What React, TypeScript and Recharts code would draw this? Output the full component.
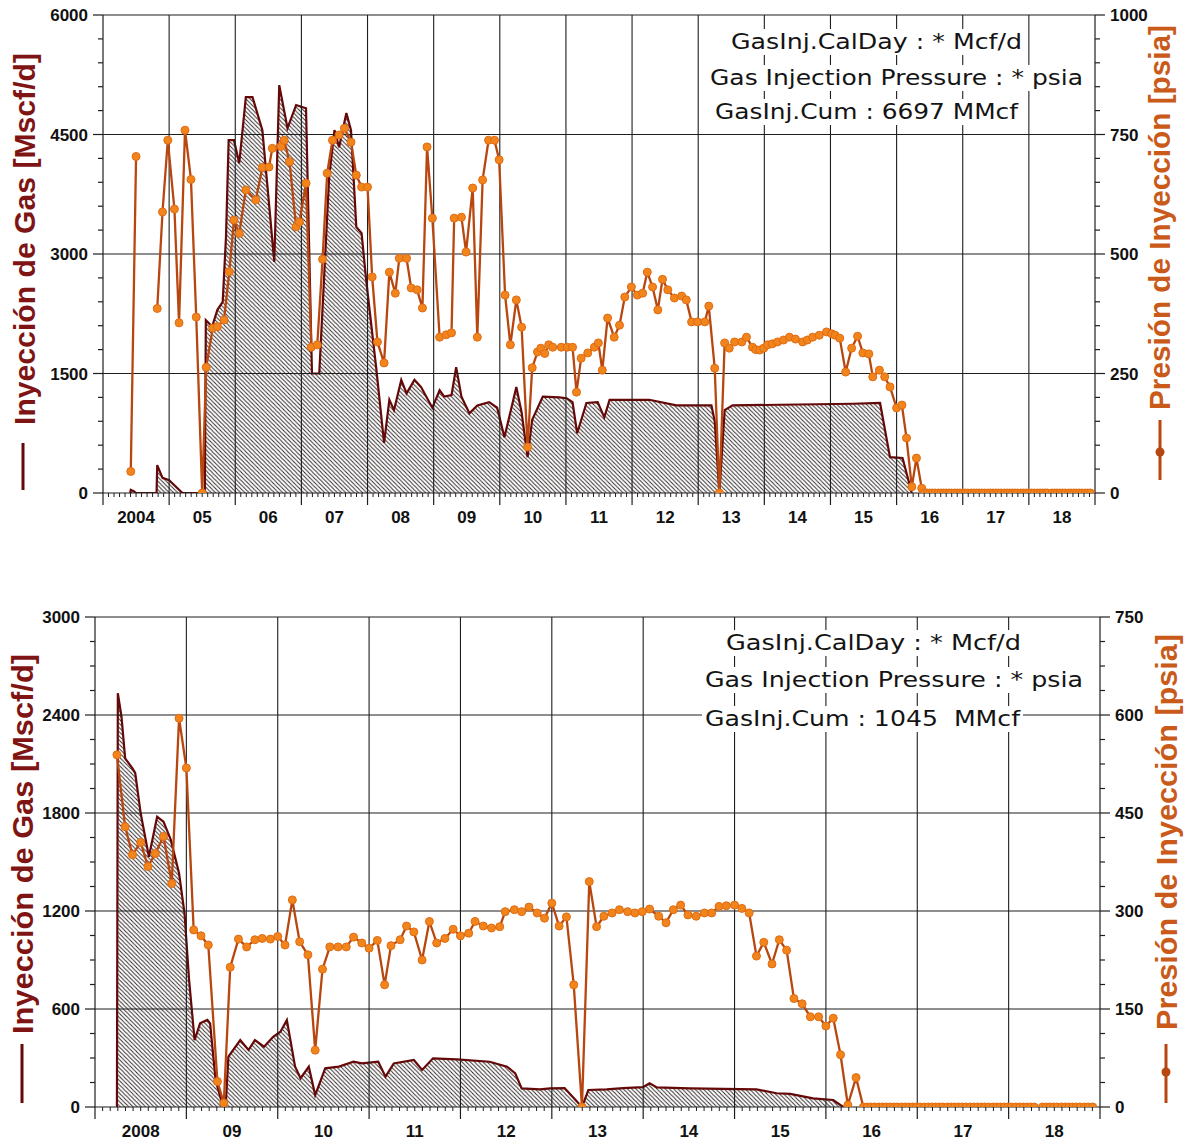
import React from 'react';
import { ComposedChart, Area, Line, XAxis, YAxis, ReferenceLine } from 'recharts';

// year labels under the x axis (placed at year centres, grid at mid-year)
const topYearLabels = ['2004', '05', '06', '07', '08', '09', '10', '11', '12', '13', '14', '15', '16', '17', '18'];
const bottomYearLabels = ['2008', '09', '10', '11', '12', '13', '14', '15', '16', '17', '18'];

const topGasTicks = [0, 1500, 3000, 4500, 6000];
const topPressTicks = [0, 250, 500, 750, 1000];
const bottomGasTicks = [0, 600, 1200, 1800, 2400, 3000];
const bottomPressTicks = [0, 150, 300, 450, 600, 750];

// [decimal year, Mscf/d]
const topGasRate: [number, number][] = [
  [2003.91, 0], [2003.92, 40], [2003.97, 20], [2004.0, 0],
  [2004.31, 0], [2004.32, 350], [2004.4, 190], [2004.5, 160], [2004.65, 40], [2004.7, 0],
  [2005.04, 0], [2005.055, 2170], [2005.15, 2090], [2005.23, 2300], [2005.31, 2400], [2005.36, 3220],
  [2005.4, 4430], [2005.48, 4430], [2005.56, 4140], [2005.66, 4970], [2005.76, 4970], [2005.91, 4555],
  [2006.09, 2900], [2006.165, 5120], [2006.29, 4580], [2006.42, 4870], [2006.57, 4830], [2006.66, 1500],
  [2006.77, 1500], [2006.92, 3970], [2007.0, 4555], [2007.07, 4340], [2007.18, 4770], [2007.25, 4555],
  [2007.33, 3340], [2007.41, 3260], [2007.48, 2670], [2007.63, 1580], [2007.75, 630], [2007.83, 1170],
  [2007.9, 1040], [2008.01, 1420], [2008.09, 1250], [2008.21, 1420], [2008.31, 1330], [2008.48, 1070],
  [2008.59, 1290], [2008.66, 1210], [2008.77, 1230], [2008.84, 1580], [2008.92, 1210], [2009.04, 1000],
  [2009.16, 1100], [2009.34, 1140], [2009.46, 1070], [2009.57, 700], [2009.75, 1330], [2009.83, 1010],
  [2009.92, 450], [2009.99, 920], [2010.15, 1210], [2010.4, 1200], [2010.51, 1190], [2010.6, 1140],
  [2010.67, 750], [2010.81, 1130], [2010.98, 1140], [2011.08, 950], [2011.16, 1170], [2011.76, 1170],
  [2012.17, 1100], [2012.7, 1100], [2012.75, 900], [2012.82, 0], [2012.9, 1040], [2013.02, 1100],
  [2014.84, 1120], [2015.25, 1130], [2015.4, 450], [2015.59, 440], [2015.73, 0],
];

// [decimal year, psia]
const topPressure: [number, number | null][] = [
  [2003.92, 45], [2004.0, 704], [2004.15, null], [2004.32, 386], [2004.4, 588], [2004.48, 738],
  [2004.58, 594], [2004.65, 356], [2004.74, 759], [2004.83, 656], [2004.91, 368], [2005.0, 0],
  [2005.06, 263], [2005.16, 345], [2005.23, 348], [2005.33, 362], [2005.41, 463], [2005.48, 571],
  [2005.56, 543], [2005.66, 634], [2005.81, 613], [2005.91, 681], [2006.01, 682], [2006.06, 721],
  [2006.19, 725], [2006.24, 738], [2006.32, 693], [2006.42, 557], [2006.47, 567], [2006.57, 648],
  [2006.65, 305], [2006.74, 310], [2006.82, 489], [2006.89, 669], [2006.97, 738], [2007.07, 749],
  [2007.15, 763], [2007.25, 734], [2007.33, 665], [2007.41, 640], [2007.5, 640], [2007.57, 452],
  [2007.65, 316], [2007.75, 272], [2007.83, 462], [2007.92, 418], [2007.98, 491], [2008.09, 491],
  [2008.16, 429], [2008.25, 425], [2008.33, 387], [2008.4, 724], [2008.48, 575], [2008.59, 326],
  [2008.69, 331], [2008.77, 335], [2008.81, 575], [2008.92, 577], [2008.99, 504], [2009.09, 638],
  [2009.16, 326], [2009.24, 655], [2009.33, 738], [2009.42, 738], [2009.49, 697], [2009.58, 414],
  [2009.66, 310], [2009.75, 404], [2009.83, 347], [2009.92, 96], [2009.99, 262], [2010.07, 295],
  [2010.12, 303], [2010.18, 292], [2010.24, 310], [2010.3, 305], [2010.43, 305], [2010.52, 305],
  [2010.6, 305], [2010.66, 211], [2010.73, 282], [2010.83, 293], [2010.93, 305], [2010.99, 314],
  [2011.05, 257], [2011.13, 366], [2011.23, 326], [2011.31, 351], [2011.39, 410], [2011.49, 431],
  [2011.58, 414], [2011.66, 418], [2011.73, 462], [2011.81, 431], [2011.89, 383], [2011.96, 447],
  [2012.04, 425], [2012.14, 408], [2012.25, 412], [2012.32, 404], [2012.4, 358], [2012.49, 358],
  [2012.6, 358], [2012.66, 391], [2012.75, 261], [2012.82, 0], [2012.9, 314], [2012.97, 303],
  [2013.05, 316], [2013.16, 316], [2013.23, 326], [2013.32, 305], [2013.37, 300], [2013.43, 299],
  [2013.49, 303], [2013.55, 310], [2013.62, 312], [2013.7, 316], [2013.79, 320], [2013.88, 326],
  [2013.97, 322], [2014.08, 316], [2014.15, 320], [2014.23, 326], [2014.33, 330], [2014.44, 337],
  [2014.52, 333], [2014.57, 330], [2014.64, 324], [2014.73, 253], [2014.82, 303], [2014.91, 328],
  [2014.99, 293], [2015.08, 291], [2015.14, 243], [2015.24, 257], [2015.32, 243], [2015.4, 222],
  [2015.5, 178], [2015.58, 184], [2015.65, 115], [2015.73, 13], [2015.8, 73], [2015.88, 10],
  [2015.92, 0], [2015.96, 0], [2016.0, 0], [2016.04, 0], [2016.08, 0], [2016.13, 0], [2016.17, 0],
  [2016.21, 0], [2016.25, 0], [2016.29, 0], [2016.33, 0], [2016.38, 0], [2016.42, 0], [2016.46, 0],
  [2016.5, 0], [2016.54, 0], [2016.58, 0], [2016.63, 0], [2016.67, 0], [2016.71, 0], [2016.75, 0],
  [2016.79, 0], [2016.83, 0], [2016.88, 0], [2016.92, 0], [2016.96, 0], [2017.0, 0], [2017.04, 0],
  [2017.08, 0], [2017.13, 0], [2017.17, 0], [2017.21, 0], [2017.25, 0], [2017.29, 0], [2017.33, 0],
  [2017.38, 0], [2017.42, 0], [2017.46, 0], [2017.5, 0], [2017.54, 0], [2017.58, 0], [2017.63, 0],
  [2017.67, 0], [2017.71, 0], [2017.75, 0], [2017.78, 0], [2017.81, null], [2017.85, 0], [2017.89, 0],
  [2017.93, 0], [2017.97, 0], [2018.01, 0], [2018.05, 0], [2018.1, 0], [2018.14, 0], [2018.18, 0],
  [2018.22, 0], [2018.26, 0], [2018.3, 0], [2018.35, 0], [2018.39, 0], [2018.43, 0],
];

const bottomGasRate: [number, number][] = [
  [2007.74, 0], [2007.75, 2533], [2007.79, 2390], [2007.83, 2135], [2007.91, 2073], [2007.94, 2045],
  [2008.0, 1798], [2008.09, 1532], [2008.18, 1777], [2008.25, 1747], [2008.33, 1635], [2008.42, 1431],
  [2008.48, 1186], [2008.53, 777], [2008.59, 410], [2008.65, 512], [2008.73, 533], [2008.76, 512],
  [2008.82, 165], [2008.89, 24], [2008.93, 0], [2008.96, 308], [2009.09, 410], [2009.18, 349],
  [2009.25, 410], [2009.35, 369], [2009.45, 430], [2009.53, 461], [2009.6, 533], [2009.69, 247],
  [2009.75, 176], [2009.84, 247], [2009.91, 73], [2010.02, 237], [2010.17, 247], [2010.33, 277],
  [2010.42, 267], [2010.6, 277], [2010.68, 186], [2010.77, 267], [2010.99, 288], [2011.08, 227],
  [2011.2, 298], [2011.46, 292], [2011.82, 277], [2012.01, 247], [2012.1, 206], [2012.17, 114],
  [2012.37, 108], [2012.48, 114], [2012.64, 116], [2012.83, 0], [2012.9, 104], [2013.1, 108],
  [2013.28, 116], [2013.5, 122], [2013.57, 145], [2013.65, 120], [2014.01, 114], [2014.74, 108],
  [2014.96, 84], [2015.11, 80], [2015.36, 53], [2015.58, 43], [2015.69, 0],
];

const bottomPressure: [number, number | null][] = [
  [2007.74, 539], [2007.83, 429], [2007.91, 386], [2008.0, 405], [2008.08, 368], [2008.16, 388],
  [2008.25, 414], [2008.34, 342], [2008.42, 595], [2008.5, 519], [2008.58, 271], [2008.66, 262],
  [2008.74, 248], [2008.84, 39], [2008.91, 6], [2008.98, 214], [2009.07, 257], [2009.16, 245],
  [2009.25, 256], [2009.33, 258], [2009.42, 257], [2009.5, 261], [2009.58, 248], [2009.66, 317],
  [2009.74, 253], [2009.83, 233], [2009.91, 87], [2009.99, 211], [2010.07, 245], [2010.16, 245],
  [2010.25, 245], [2010.33, 260], [2010.42, 251], [2010.5, 243], [2010.59, 255], [2010.67, 187],
  [2010.74, 247], [2010.84, 256], [2010.91, 277], [2010.99, 268], [2011.08, 225], [2011.16, 284],
  [2011.24, 251], [2011.33, 258], [2011.42, 272], [2011.5, 262], [2011.59, 266], [2011.66, 284],
  [2011.75, 277], [2011.84, 274], [2011.93, 276], [2011.99, 299], [2012.09, 302], [2012.17, 299],
  [2012.25, 306], [2012.34, 297], [2012.42, 289], [2012.5, 312], [2012.58, 277], [2012.66, 291],
  [2012.74, 187], [2012.83, 0], [2012.91, 345], [2012.99, 276], [2013.07, 292], [2013.16, 297],
  [2013.24, 302], [2013.33, 299], [2013.41, 297], [2013.49, 299], [2013.57, 303], [2013.67, 292],
  [2013.75, 282], [2013.83, 302], [2013.91, 309], [2013.99, 294], [2014.08, 292], [2014.17, 297],
  [2014.25, 297], [2014.33, 307], [2014.41, 308], [2014.5, 309], [2014.58, 304], [2014.66, 297],
  [2014.74, 231], [2014.82, 252], [2014.91, 219], [2014.99, 256], [2015.07, 240], [2015.15, 166],
  [2015.24, 158], [2015.33, 138], [2015.42, 138], [2015.5, 124], [2015.58, 136], [2015.66, 80],
  [2015.74, 3], [2015.83, 45], [2015.91, 0], [2015.95, 0], [2015.99, 0], [2016.03, 0], [2016.08, 0],
  [2016.12, 0], [2016.16, 0], [2016.2, 0], [2016.24, 0], [2016.28, 0], [2016.33, 0], [2016.37, 0],
  [2016.41, 0], [2016.45, 0], [2016.49, 0], [2016.53, 0], [2016.58, 0], [2016.62, 0], [2016.66, 0],
  [2016.7, 0], [2016.74, 0], [2016.78, 0], [2016.83, 0], [2016.87, 0], [2016.91, 0], [2016.95, 0],
  [2016.99, 0], [2017.03, 0], [2017.08, 0], [2017.12, 0], [2017.16, 0], [2017.2, 0], [2017.24, 0],
  [2017.28, 0], [2017.33, 0], [2017.37, 0], [2017.41, 0], [2017.45, 0], [2017.49, 0], [2017.53, 0],
  [2017.58, 0], [2017.62, 0], [2017.66, 0], [2017.7, 0], [2017.74, 0], [2017.78, 0], [2017.82, null],
  [2017.87, 0], [2017.91, 0], [2017.95, 0], [2017.99, 0], [2018.03, 0], [2018.08, 0], [2018.12, 0],
  [2018.16, 0], [2018.2, 0], [2018.24, 0], [2018.28, 0], [2018.33, 0], [2018.37, 0], [2018.42, 0],
];

const GAS_RED = '#650808';
const TITLE_RED = '#7E1414';
const PRESS_LINE = '#B8460F';
const PRESS_DOT = '#F2841C';
const TITLE_ORANGE = '#C95A1A';
const GRID = '#1e1e1e';
const AXIS_FONT = "'Liberation Sans', Arial, sans-serif";
const NOTE_FONT = "'DejaVu Sans', Verdana, sans-serif";

const toRows = (pairs: [number, number | null][]) => pairs.map(([t, v]) => ({ t, v }));

const monthTicks = (from: number, to: number) => {
  const out: number[] = [];
  for (let k = Math.round(from * 12); k <= Math.round(to * 12); k++) out.push(k / 12);
  return out;
};
const stepTicks = (max: number, step: number) => {
  const out: number[] = [];
  for (let v = 0; v <= max + 1e-9; v += step) out.push(Math.round(v * 100) / 100);
  return out;
};

const XTick = (props: any) => {
  const { x, y, payload, labels, firstYear } = props;
  const v = payload.value;
  const frac = v - Math.floor(v);
  if (Math.abs(frac - 0.5) < 1e-6) {
    return <line x1={x} x2={x} y1={y} y2={y + 12} stroke={GRID} strokeWidth={1.2} />;
  }
  const minor = <line x1={x} x2={x} y1={y} y2={y + 4} stroke={GRID} strokeWidth={1} />;
  if (frac < 1e-6 || frac > 1 - 1e-6) {
    const label = labels[Math.round(v) - firstYear];
    return (
      <g>
        {minor}
        <text x={x} y={y + 30} textAnchor="middle" fontFamily={AXIS_FONT} fontWeight="bold" fontSize={17} fill="#111">
          {label}
        </text>
      </g>
    );
  }
  return minor;
};

const YTick = (props: any) => {
  const { x, y, payload, majors, side } = props;
  const isMajor = majors.includes(payload.value);
  const len = isMajor ? 10 : 5;
  const dir = side === 'left' ? -1 : 1;
  return (
    <g>
      <line x1={x} x2={x + dir * len} y1={y} y2={y} stroke={GRID} strokeWidth={1.2} />
      {isMajor && (
        <text
          x={x + dir * 15}
          y={y + 6}
          textAnchor={side === 'left' ? 'end' : 'start'}
          fontFamily={AXIS_FONT}
          fontWeight="bold"
          fontSize={17}
          fill="#111"
        >
          {payload.value}
        </text>
      )}
    </g>
  );
};

interface PanelProps {
  top: number;
  height: number;
  marginTop: number;
  marginBottom: number;
  leftWidth: number;
  rightWidth: number;
  domain: [number, number];
  labels: string[];
  firstYear: number;
  gas: [number, number][];
  press: [number, number | null][];
  gasMax: number;
  gasTicks: number[];
  gasMinor: number;
  pressMax: number;
  pressTicks: number[];
  pressMinor: number;
  hatchId: string;
}

const Panel = (p: PanelProps) => {
  const xTicks = monthTicks(p.domain[0], p.domain[1]);
  const gridX = xTicks.filter((v) => Math.abs(v - Math.floor(v) - 0.5) < 1e-6 && v > p.domain[0] && v < p.domain[1]);
  return (
    <div style={{ position: 'absolute', left: 0, top: p.top }}>
      <ComposedChart
        width={1191}
        height={p.height}
        margin={{ top: p.marginTop, right: 0, bottom: p.marginBottom, left: 0 }}
      >
        <defs>
          <pattern id={p.hatchId} patternUnits="userSpaceOnUse" width={4.2} height={4.2}>
            <path d="M0,0 L4.2,4.2 M-1,3.2 L1,5.2 M3.2,-1 L5.2,1" stroke="#302828" strokeWidth={1} />
          </pattern>
        </defs>
        <XAxis
          type="number"
          dataKey="t"
          domain={p.domain}
          ticks={xTicks}
          interval={0}
          allowDataOverflow
          height={30}
          tickSize={0}
          tickMargin={0}
          tickLine={false}
          axisLine={{ stroke: GRID, strokeWidth: 1.2 }}
          tick={(props: any) => <XTick {...props} labels={p.labels} firstYear={p.firstYear} />}
        />
        <YAxis
          yAxisId="g"
          type="number"
          domain={[0, p.gasMax]}
          ticks={stepTicks(p.gasMax, p.gasMinor)}
          interval={0}
          allowDataOverflow
          width={p.leftWidth}
          tickSize={0}
          tickMargin={0}
          tickLine={false}
          axisLine={{ stroke: GRID, strokeWidth: 1.2 }}
          tick={(props: any) => <YTick {...props} majors={p.gasTicks} side="left" />}
        />
        <YAxis
          yAxisId="p"
          orientation="right"
          type="number"
          domain={[0, p.pressMax]}
          ticks={stepTicks(p.pressMax, p.pressMinor)}
          interval={0}
          allowDataOverflow
          width={p.rightWidth}
          tickSize={0}
          tickMargin={0}
          tickLine={false}
          axisLine={{ stroke: GRID, strokeWidth: 1.2 }}
          tick={(props: any) => <YTick {...props} majors={p.pressTicks} side="right" />}
        />
        {gridX.map((v) => (
          <ReferenceLine key={'gx' + v} x={v} yAxisId="g" stroke={GRID} strokeWidth={1.1} />
        ))}
        {p.gasTicks.filter((v) => v > 0).map((v) => (
          <ReferenceLine key={'gy' + v} y={v} yAxisId="g" stroke={GRID} strokeWidth={1.1} />
        ))}
        <Area
          yAxisId="g"
          data={toRows(p.gas)}
          dataKey="v"
          type="linear"
          stroke={GAS_RED}
          strokeWidth={2.2}
          fill={`url(#${p.hatchId})`}
          fillOpacity={1}
          dot={false}
          activeDot={false}
          isAnimationActive={false}
        />
        <Line
          yAxisId="p"
          data={toRows(p.press)}
          dataKey="v"
          type="linear"
          stroke={PRESS_LINE}
          strokeWidth={2.3}
          connectNulls={false}
          dot={{ r: 4, fill: PRESS_DOT, stroke: '#E06C14', strokeWidth: 1 }}
          activeDot={false}
          isAnimationActive={false}
        />
      </ComposedChart>
    </div>
  );
};

const Note = ({ x, cy, w, text }: { x: number; cy: number; w: number; text: string }) => (
  <g>
    <rect x={x - 3} y={cy - 13} width={w + 6} height={26} fill="#fff" />
    <text
      x={x}
      y={cy + 7}
      textLength={w}
      lengthAdjust="spacingAndGlyphs"
      fontFamily={NOTE_FONT}
      fontSize={21}
      fill="#141414"
      style={{ whiteSpace: 'pre' }}
    >
      {text}
    </text>
  </g>
);

const SideTitle = ({ bx, by, len, text, color }: { bx: number; by: number; len: number; text: string; color: string }) => (
  <text
    x={bx}
    y={by}
    transform={`rotate(-90 ${bx} ${by})`}
    textLength={len}
    lengthAdjust="spacingAndGlyphs"
    fontFamily={AXIS_FONT}
    fontWeight="bold"
    fontSize={29}
    fill={color}
  >
    {text}
  </text>
);

export default function App() {
  return (
    <div style={{ position: 'absolute', left: 0, top: 0, width: 1191, height: 1144, background: '#fff', overflow: 'hidden' }}>
      <Panel
        top={0}
        height={530}
        marginTop={15}
        marginBottom={7}
        leftWidth={103}
        rightWidth={96}
        domain={[2003.5, 2018.5]}
        labels={topYearLabels}
        firstYear={2004}
        gas={topGasRate}
        press={topPressure}
        gasMax={6000}
        gasTicks={topGasTicks}
        gasMinor={300}
        pressMax={1000}
        pressTicks={topPressTicks}
        pressMinor={50}
        hatchId="hatchTop"
      />
      <Panel
        top={600}
        height={540}
        marginTop={17}
        marginBottom={3}
        leftWidth={95}
        rightWidth={91}
        domain={[2007.5, 2018.5]}
        labels={bottomYearLabels}
        firstYear={2008}
        gas={bottomGasRate}
        press={bottomPressure}
        gasMax={3000}
        gasTicks={bottomGasTicks}
        gasMinor={150}
        pressMax={750}
        pressTicks={bottomPressTicks}
        pressMinor={37.5}
        hatchId="hatchBottom"
      />
      <svg width={1191} height={1144} style={{ position: 'absolute', left: 0, top: 0, pointerEvents: 'none' }}>
        {/* top panel notes */}
        <Note x={731} cy={42} w={291} text="GasInj.CalDay : * Mcf/d" />
        <Note x={710} cy={78} w={373} text="Gas Injection Pressure : * psia" />
        <Note x={715} cy={112} w={303} text="GasInj.Cum : 6697 MMcf" />
        {/* bottom panel notes */}
        <Note x={726} cy={643} w={295} text="GasInj.CalDay : * Mcf/d" />
        <Note x={705} cy={680} w={378} text="Gas Injection Pressure : * psia" />
        <Note x={705} cy={719} w={315} text="GasInj.Cum : 1045  MMcf" />

        {/* axis titles with legend keys */}
        <SideTitle bx={35} by={425} len={372} text="Inyección de Gas [Mscf/d]" color={TITLE_RED} />
        <line x1={23} x2={23} y1={443} y2={490} stroke={GAS_RED} strokeWidth={3} />
        <SideTitle bx={1170} by={410} len={385} text="Presión de Inyección [psia]" color={TITLE_ORANGE} />
        <line x1={1160} x2={1160} y1={420} y2={480} stroke={PRESS_LINE} strokeWidth={3} />
        <circle cx={1160} cy={452} r={4.5} fill={PRESS_LINE} />

        <SideTitle bx={33} by={1034} len={380} text="Inyección de Gas [Mscf/d]" color={TITLE_RED} />
        <line x1={22} x2={22} y1={1044} y2={1103} stroke={GAS_RED} strokeWidth={3} />
        <SideTitle bx={1177} by={1030} len={396} text="Presión de Inyección [psia]" color={TITLE_ORANGE} />
        <line x1={1166} x2={1166} y1={1044} y2={1103} stroke={PRESS_LINE} strokeWidth={3} />
        <circle cx={1166} cy={1072} r={4.5} fill={PRESS_LINE} />
      </svg>
    </div>
  );
}
